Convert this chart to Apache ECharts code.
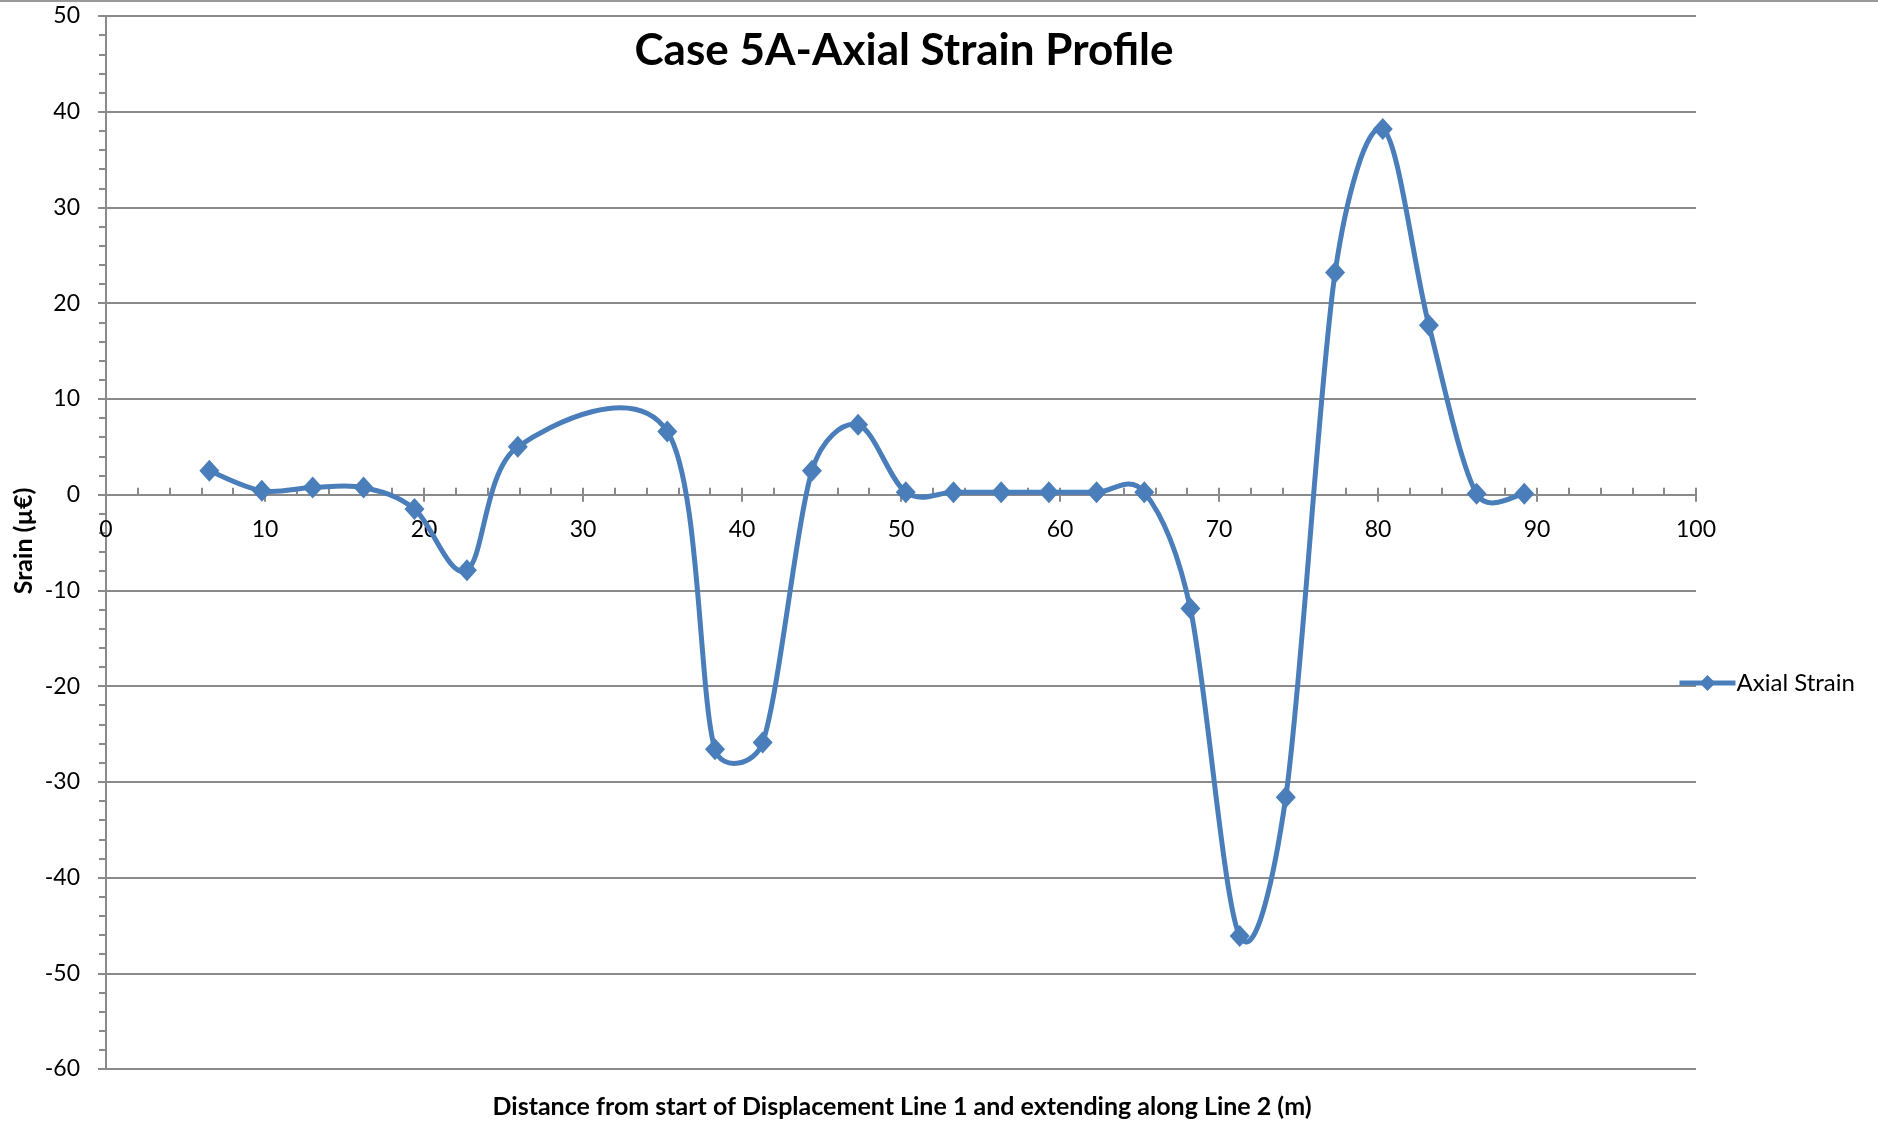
<!DOCTYPE html>
<html>
<head>
<meta charset="utf-8">
<script src="https://cdn.jsdelivr.net/npm/echarts@6/dist/echarts.min.js"></script>
<style>
  html, body { margin: 0; padding: 0; background: #fff; }
  #chart { width: 1878px; height: 1122px; }
</style>
</head>
<body>
<div id="chart"></div>
<script>
// distance along lines (m) and axial strain values
const distance = [6.5, 9.8, 13.0, 16.2, 19.4, 22.7, 25.9, 35.3, 38.3, 41.3, 44.4, 47.3, 50.3,
                  53.3, 56.3, 59.3, 62.3, 65.3, 68.2, 71.3, 74.2, 77.3, 80.3, 83.2, 86.2, 89.2];
const strain = [2.5, 0.4, 0.75, 0.75, -1.5, -7.9, 5.0, 6.6, -26.6, -25.9, 2.5, 7.3, 0.25,
                0.25, 0.25, 0.25, 0.25, 0.25, -11.9, -46.1, -31.6, 23.2, 38.2, 17.7, 0.1, 0.1];

const seriesName = 'Axial Strain';
const chartTitle = 'Case 5A-Axial Strain Profile';
const xName = 'Distance from start of Displacement Line 1 and extending along Line 2 (m)';
const yName = 'Srain (µ€)';

const FONT = 'Lato';
const GRAY = '#8a8a8a';
const BLUE = '#4A7EBB';

const Y_MIN = -60, Y_MAX = 50;
const points = distance.map((d, i) => [d, strain[i]]);

// control point offset, kept within half of the segment it belongs to
function ctrl(a, b, segLen) {
    let dx = (b[0] - a[0]) / 6, dy = (b[1] - a[1]) / 6;
    const len = Math.hypot(dx, dy);
    if (len > segLen / 2) {
        dx *= segLen / 2 / len;
        dy *= segLen / 2 / len;
    }
    return [dx, dy];
}

// Excel-style smoothed line through the points mapped by the axes
function smoothCurve(params, api) {
    if (params.dataIndex !== 0) return null;
    const p = points.map(pt => api.coord(pt));
    let d = 'M' + p[0][0] + ' ' + p[0][1];
    for (let i = 0; i < p.length - 1; i++) {
        const p0 = p[Math.max(i - 1, 0)], p1 = p[i], p2 = p[i + 1], p3 = p[Math.min(i + 2, p.length - 1)];
        const seg = Math.hypot(p2[0] - p1[0], p2[1] - p1[1]);
        const o1 = ctrl(p0, p2, seg);
        const o2 = ctrl(p1, p3, seg);
        d += ' C' + (p1[0] + o1[0]) + ' ' + (p1[1] + o1[1]) + ' ' +
             (p2[0] - o2[0]) + ' ' + (p2[1] - o2[1]) + ' ' + p2[0] + ' ' + p2[1];
    }
    return {
        type: 'path',
        shape: { pathData: d },
        style: { fill: 'none', stroke: BLUE, lineWidth: 5, lineJoin: 'round', lineCap: 'round' }
    };
}

const chart = echarts.init(document.getElementById('chart'));

const W = 1878, H = 1122;
const gridBox = { left: 106, right: 182, top: 16, bottom: 53 };
// second grid ends exactly on the zero line, so its x axis carries the labels there
const plotH = H - gridBox.top - gridBox.bottom;
const zeroY = gridBox.top + plotH * Y_MAX / (Y_MAX - Y_MIN);

chart.setOption({
    animation: false,
    grid: [
        Object.assign({}, gridBox),
        { left: gridBox.left, right: gridBox.right, top: gridBox.top, bottom: H - zeroY }
    ],
    legend: {
        data: [{ name: seriesName, lineStyle: { color: BLUE, width: 5, opacity: 1 } }],
        left: 1672,
        top: 666,
        itemWidth: 56,
        itemHeight: 20,
        itemGap: 4,
        textStyle: { fontFamily: FONT, fontSize: 24, color: '#000', padding: [0, 0, 0, -4] }
    },
    xAxis: [{
        type: 'value', gridIndex: 0,
        min: 0, max: 100, interval: 10,
        axisLine: { onZero: true, lineStyle: { color: GRAY, width: 2 } },
        axisTick: { show: true, inside: true, length: 7, lineStyle: { color: GRAY, width: 2 } },
        minorTick: { show: true, splitNumber: 5, length: 7, lineStyle: { color: GRAY, width: 2 } },
        axisLabel: { show: false },
        splitLine: { show: false }
    }, {
        type: 'value', gridIndex: 1,
        min: 0, max: 100, interval: 10,
        axisLine: { onZero: false, lineStyle: { color: GRAY, width: 2 } },
        axisTick: { show: true, inside: false, length: 7, lineStyle: { color: GRAY, width: 2 } },
        axisLabel: { margin: 23, fontFamily: FONT, fontSize: 23, color: '#000' },
        splitLine: { show: false }
    }],
    yAxis: [{
        type: 'value', gridIndex: 0,
        min: Y_MIN, max: Y_MAX, interval: 10,
        axisLine: { show: true, onZero: false, lineStyle: { color: GRAY, width: 2 } },
        axisTick: { show: true, length: 8, lineStyle: { color: GRAY, width: 2 } },
        minorTick: { show: true, splitNumber: 5, length: 7, lineStyle: { color: GRAY, width: 2 } },
        axisLabel: { margin: 26, fontFamily: FONT, fontSize: 23, color: '#000' },
        splitLine: { show: true, lineStyle: { color: GRAY, width: 2 } }
    }, {
        type: 'value', gridIndex: 1,
        min: 0, max: Y_MAX, interval: 10,
        axisLine: { show: false, onZero: false },
        axisTick: { show: false },
        axisLabel: { show: false },
        splitLine: { show: false }
    }],
    series: [{
        name: 'curve',
        type: 'custom',
        xAxisIndex: 0, yAxisIndex: 0,
        z: 2,
        data: points,
        encode: { x: 0, y: 1 },
        renderItem: smoothCurve
    }, {
        name: seriesName,
        type: 'line',
        xAxisIndex: 0, yAxisIndex: 0,
        z: 3,
        data: points,
        symbol: 'diamond',
        symbolSize: [20, 22],
        showAllSymbol: true,
        lineStyle: { color: BLUE, width: 0, opacity: 0 },
        itemStyle: { color: BLUE }
    }],
    graphic: [
        { type: 'rect', shape: { x: 0, y: 0, width: W, height: 2 }, style: { fill: '#999' } },
        {
            type: 'text', x: 904, y: 51,
            style: { text: chartTitle, font: 'bold 44px ' + FONT, fill: '#000', align: 'center', verticalAlign: 'middle' }
        },
        {
            type: 'text', x: 902, y: 1107,
            style: { text: xName, font: 'bold 25px ' + FONT, fill: '#000', align: 'center', verticalAlign: 'middle' }
        },
        {
            type: 'text', x: 24, y: 541, rotation: Math.PI / 2,
            style: { text: yName, font: 'bold 25px ' + FONT, fill: '#000', align: 'center', verticalAlign: 'middle' }
        }
    ]
});
</script>
</body>
</html>
